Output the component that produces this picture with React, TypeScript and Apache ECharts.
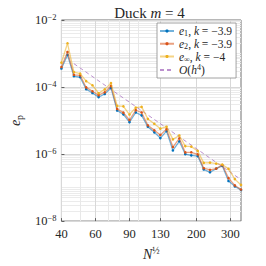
import { useEffect, useRef } from 'react';
import * as echarts from 'echarts';

// N^(1/2) values (x)
const N_HALF = [40, 43, 46.4, 50, 53.7, 57.9, 62.3, 67, 72.2, 77.7, 83.7, 90, 97, 104, 112, 121, 130, 140, 151, 163, 175, 188, 203, 218, 235, 253, 272, 293, 316, 340];
// e_1 errors
const E1 = [3.57e-4, 9.08e-4, 2.1e-4, 1.96e-4, 8.64e-5, 6.61e-5, 5.0e-5, 6.19e-5, 9.42e-5, 1.99e-5, 1.53e-5, 8.96e-6, 1.74e-5, 1.43e-5, 6.55e-6, 4.45e-6, 3.0e-6, 4.85e-6, 1.28e-6, 2.41e-6, 9.93e-7, 9.17e-7, 8.7e-7, 3.49e-7, 2.86e-7, 3.66e-7, 4.47e-7, 1.57e-7, 1.09e-7, 8.44e-8];
// e_2 errors
const E2 = [3.95e-4, 1.11e-3, 2.32e-4, 2.24e-4, 9.74e-5, 7.46e-5, 5.71e-5, 6.98e-5, 1.08e-4, 2.22e-5, 1.72e-5, 1.04e-5, 2.03e-5, 1.74e-5, 7.24e-6, 5.12e-6, 3.72e-6, 5.54e-6, 1.62e-6, 2.94e-6, 1.12e-6, 1.13e-6, 9.8e-7, 3.78e-7, 3.37e-7, 3.68e-7, 4.71e-7, 1.92e-7, 1.16e-7, 8.73e-8];
// e_inf errors
const EINF = [5.33e-4, 2.02e-3, 2.79e-4, 2.51e-4, 1.5e-4, 1.13e-4, 6.53e-5, 8.52e-5, 1.31e-4, 2.74e-5, 2.65e-5, 1.51e-5, 2.43e-5, 2.55e-5, 1.12e-5, 8.0e-6, 5.73e-6, 6.55e-6, 2.75e-6, 3.59e-6, 1.73e-6, 1.67e-6, 1.24e-6, 5.45e-7, 5.56e-7, 5.2e-7, 4.87e-7, 3.61e-7, 1.79e-7, 1.2e-7];
// O(h^4) reference line end points
const REF_X = [46.4, 340];
const REF_Y = [4.98e-4, 1.73e-7];

const X_TICKS = [40, 60, 90, 130, 200, 300];
const X_MINOR = [50, 70, 80, 100];
const Y_TICKS = [1e-8, 1e-6, 1e-4, 1e-2];
const Y_EXPONENTS = [-8, -7, -6, -5, -4, -3];
const Y_MANTISSAS = [1, 2, 3, 4, 5, 6, 7, 8, 9];

const SERIES_NAMES = ['e1', 'e2', 'einf', 'ref'];
const LEGEND_TEXT: Record<string, string> = {
  e1: '{i|e}{sub|1}{t|, }{i|k}{t| = −3.9}',
  e2: '{i|e}{sub|2}{t|, }{i|k}{t| = −3.9}',
  einf: '{i|e}{sub|∞}{t|, }{i|k}{t| = −4}',
  ref: '{i|O}{t|(}{i|h}{sup|4}{t|)}',
};

const FONT = '"Liberation Serif", "DejaVu Serif", serif';
const TXT = '#262626';

const richBase = (size: number, lh: number) => ({
  t: { fontFamily: FONT, fontSize: size, color: TXT, lineHeight: lh, fontWeight: 'normal' },
  i: { fontFamily: FONT, fontSize: size, color: TXT, lineHeight: lh, fontStyle: 'italic', fontWeight: 'normal' },
  sub: { fontFamily: FONT, fontSize: size * 0.7, color: TXT, lineHeight: size * 0.75, verticalAlign: 'bottom', fontWeight: 'normal' },
  sup: { fontFamily: FONT, fontSize: size * 0.7, color: TXT, lineHeight: size * 0.75, verticalAlign: 'top', fontWeight: 'normal' },
});

export default function App() {
  const ref = useRef<HTMLDivElement>(null);

  useEffect(() => {
    if (!ref.current) return;
    const chart = echarts.init(ref.current, null, { renderer: 'svg', width: 266, height: 266 });

    const yMinor: number[] = [];
    Y_EXPONENTS.forEach((e) => {
      Y_MANTISSAS.forEach((m) => {
        const v = m * Math.pow(10, e);
        if (!Y_TICKS.some((t) => Math.abs(t - v) / t < 1e-6)) yMinor.push(v);
      });
    });

    const lineSeries = (name: string, vals: number[], color: string, z: number) => ({
      type: 'line',
      name,
      data: N_HALF.map((x, i) => [x, vals[i]]),
      xAxisIndex: 0,
      yAxisIndex: 0,
      symbol: 'circle',
      symbolSize: 2.6,
      showSymbol: true,
      lineStyle: { color, width: 1.3, opacity: 0.55 },
      itemStyle: { color },
      z,
    });

    const option: any = {
      animation: false,
      backgroundColor: '#fff',
      title: {
        text: '{t|Duck }{i|m}{t| = 4}',
        left: 144.5,
        textAlign: 'center',
        top: -1,
        textStyle: { fontWeight: 'normal', rich: richBase(15, 18) },
      },
      grid: {
        left: 48,
        right: 25,
        top: 20,
        bottom: 39,
        show: true,
        borderColor: '#707070',
        borderWidth: 1,
        backgroundColor: 'transparent',
      },
      legend: {
        orient: 'vertical',
        left: 157,
        top: 23,
        data: SERIES_NAMES.map((n) => (n === 'ref' ? { name: n, itemStyle: { opacity: 0 } } : { name: n })),
        itemWidth: 14,
        itemHeight: 4,
        itemGap: 0,
        padding: [2, 4, 2, 2],
        backgroundColor: '#fff',
        borderColor: '#8a8a8a',
        borderWidth: 0.8,
        formatter: (n: string) => LEGEND_TEXT[n],
        textStyle: { rich: richBase(11.5, 13.5) },
      },
      xAxis: [
        {
          type: 'log',
          logBase: 10,
          min: 40,
          max: 340,
          position: 'bottom',
          name: '{i|N}{sup|½}',
          nameLocation: 'middle',
          nameGap: 19,
          nameTextStyle: { rich: richBase(14, 18) },
          axisLine: { show: false },
          axisTick: { show: true, inside: true, length: 3, customValues: X_TICKS, lineStyle: { color: '#606060' } },
          axisLabel: {
            customValues: X_TICKS,
            margin: 6,
            fontFamily: FONT,
            fontSize: 12.5,
            color: TXT,
            formatter: (v: number) => String(Math.round(v)),
          },
          splitLine: { show: true, lineStyle: { color: '#d8d8d8', width: 1 } },
        },
        {
          type: 'log',
          logBase: 10,
          min: 40,
          max: 340,
          position: 'bottom',
          axisLine: { show: false },
          axisTick: { show: false, customValues: X_MINOR },
          axisLabel: { show: false, customValues: X_MINOR },
          splitLine: { show: true, lineStyle: { color: '#e8e8e8', width: 1 } },
        },
      ],
      yAxis: [
        {
          type: 'log',
          logBase: 10,
          min: 1e-8,
          max: 1e-2,
          position: 'left',
          name: '{i|e}{sub|p}',
          nameLocation: 'middle',
          nameGap: 37,
          nameRotate: 90,
          nameTextStyle: { rich: richBase(14, 18) },
          axisLine: { show: false },
          axisTick: { show: true, inside: true, length: 3, customValues: Y_TICKS, lineStyle: { color: '#606060' } },
          axisLabel: {
            customValues: Y_TICKS,
            margin: 5,
            formatter: (v: number) => {
              const e = Math.round(Math.log10(v));
              return `{b|10}{s|${e < 0 ? '−' : ''}${Math.abs(e)}}`;
            },
            rich: {
              b: { fontFamily: FONT, fontSize: 12.5, color: TXT, lineHeight: 16 },
              s: { fontFamily: FONT, fontSize: 8.5, color: TXT, lineHeight: 10, verticalAlign: 'top' },
            },
          },
          splitLine: { show: true, lineStyle: { color: '#d8d8d8', width: 1 } },
        },
        {
          type: 'log',
          logBase: 10,
          min: 1e-8,
          max: 1e-2,
          position: 'left',
          axisLine: { show: false },
          axisTick: { show: false, customValues: yMinor },
          axisLabel: { show: false, customValues: yMinor },
          splitLine: { show: true, lineStyle: { color: '#ebebeb', width: 1 } },
        },
      ],
      series: [
        lineSeries('e1', E1, '#0072BD', 3),
        lineSeries('e2', E2, '#D95319', 4),
        lineSeries('einf', EINF, '#EDB120', 5),
        {
          type: 'line',
          name: 'ref',
          data: REF_X.map((x, i) => [x, REF_Y[i]]),
          xAxisIndex: 0,
          yAxisIndex: 0,
          symbol: 'none',
          showSymbol: false,
          lineStyle: { color: '#b07cc6', width: 1, type: [4, 3], opacity: 0.85 },
          itemStyle: { color: '#b07cc6' },
          z: 2,
        },
      ],
    };

    chart.setOption(option);
    return () => chart.dispose();
  }, []);

  return (
    <div
      ref={ref}
      style={{ position: 'fixed', left: 0, top: 0, width: 266, height: 266, background: '#fff' }}
    />
  );
}
